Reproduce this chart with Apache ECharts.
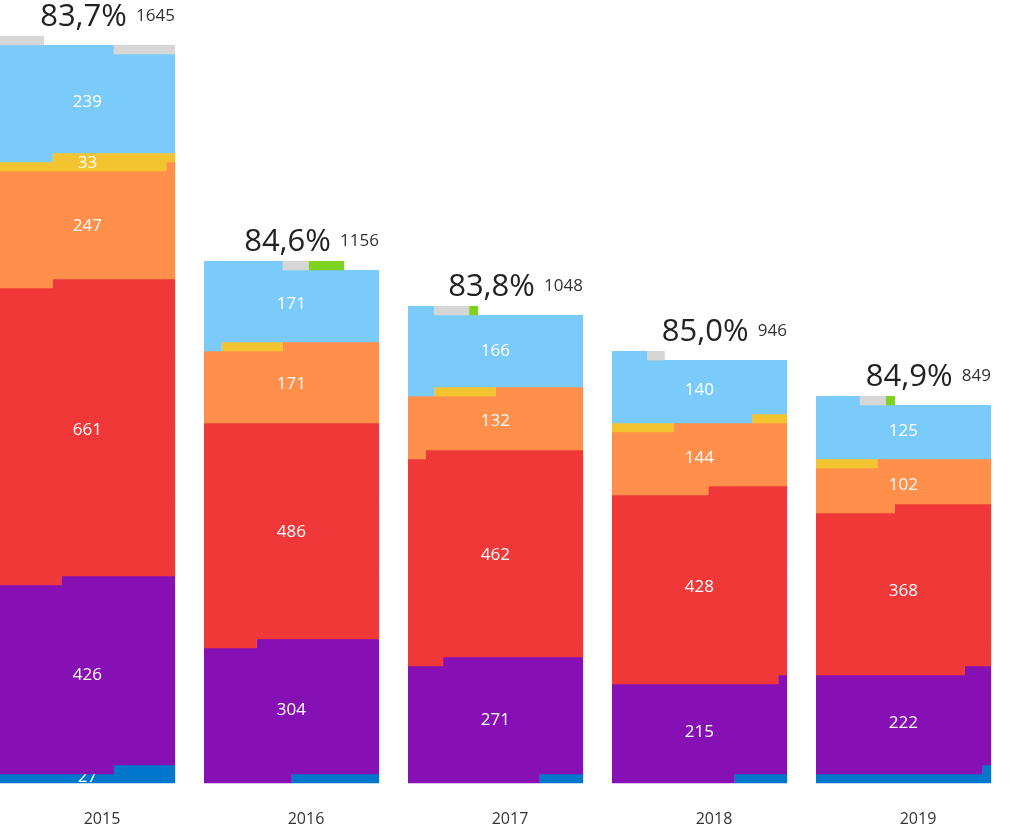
<!DOCTYPE html>
<html><head><meta charset="utf-8">
<script src="https://cdn.jsdelivr.net/npm/echarts@6/dist/echarts.min.js"></script>
<style>html,body{margin:0;padding:0;background:#fff}#c{width:1020px;height:828px}</style>
</head><body><div id="c"></div>
<script>
const years = ['2015','2016','2017','2018','2019'];
const blue      = [27, 10, 5, 6, 21];
const purple    = [426, 304, 271, 215, 222];
const red       = [661, 486, 462, 428, 368];
const orange    = [247, 171, 132, 144, 102];
const yellow    = [33, 7, 7, 11, 7];
const lightblue = [239, 171, 166, 140, 125];
const gray      = [12, 3, 4, 2, 3];
const green     = [0, 4, 1, 0, 1];
const pct       = ['83,7%', '84,6%', '83,8%', '85,0%', '84,9%'];

const groups = [
  {name:'blue', vals:blue, color:'#0077cc'},
  {name:'purple', vals:purple, color:'#8710b4'},
  {name:'red', vals:red, color:'#f03838'},
  {name:'orange', vals:orange, color:'#ff8f4a'},
  {name:'yellow', vals:yellow, color:'#f4c430'},
  {name:'lightblue', vals:lightblue, color:'#7acbfa'},
  {name:'gray', vals:gray, color:'#d6d6d6'},
  {name:'green', vals:green, color:'#7ed321'}
];
const PER_ROW = 20;
const FONT = '"Open Sans", sans-serif';

const cum = years.map(() => 0);
const topRow = years.map((y, i) => {
  let s = 0; for (let g = 0; g < 6; g++) s += groups[g].vals[i];
  return Math.floor(s / PER_ROW);
});
const totals = years.map((y, i) => groups.reduce((a, g) => a + g.vals[i], 0));

function renderSeg(params, api) {
  const idx = api.value(0), s = api.value(1), e = api.value(2), tr = api.value(3);
  if (e <= s) return null;
  const bw = api.size([1, 0])[0];
  const left = api.coord([idx, 0])[0] - bw / 2;
  const barW = bw * 180 / 210;
  const uw = barW / PER_ROW;
  const rowH = api.size([0, 1])[1];
  const children = [];
  const color = api.visual('color');
  for (let r = Math.floor(s / PER_ROW); r <= Math.floor((e - 1) / PER_ROW); r++) {
    const cs = Math.max(s, r * PER_ROW) - r * PER_ROW;
    const ce = Math.min(e, (r + 1) * PER_ROW) - r * PER_ROW;
    const x0 = r >= tr ? left + cs * uw : left + (PER_ROW - ce) * uw;
    const y = api.coord([idx, r + 1])[1];
    children.push({type: 'rect', shape: {x: x0, y: y, width: (ce - cs) * uw + 0.3, height: rowH + 0.3},
      style: {fill: color}});
  }
  if (e - s >= 25) {
    const my = api.coord([idx, (s + e) / 2 / PER_ROW])[1];
    children.push({type: 'text', style: {text: String(e - s), x: left + barW / 2, y: my,
      align: 'center', verticalAlign: 'middle', fill: '#fff', font: '17px ' + FONT}});
  }
  return {type: 'group', children};
}

const series = groups.map(g => {
  const data = years.map((y, i) => {
    const s = cum[i]; cum[i] += g.vals[i];
    return [i, s, cum[i], topRow[i]];
  });
  return {type: 'custom', name: g.name, renderItem: renderSeg, data,
    itemStyle: {color: g.color}, encode: {x: 0, y: 2}, silent: true};
});

series.push({
  type: 'custom', name: 'totals', silent: true,
  data: years.map((y, i) => [i, totals[i]]),
  encode: {x: 0, y: 1},
  renderItem: function (params, api) {
    const idx = api.value(0), t = api.value(1);
    const bw = api.size([1, 0])[0];
    const left = api.coord([idx, 0])[0] - bw / 2;
    const right = left + bw * 180 / 210;
    const top = api.coord([idx, Math.ceil(t / PER_ROW)])[1];
    return {type: 'text', style: {
      text: '{a|' + pct[idx] + '}{b|' + t + '}', x: right, y: top - 3,
      align: 'right', verticalAlign: 'bottom',
      rich: {a: {fontSize: 31, fontFamily: FONT, fill: '#222', color: '#222'},
             b: {fontSize: 17, fontFamily: FONT, fill: '#333', color: '#333', padding: [0, 0, 3, 9]}}
    }};
  }
});

const chart = echarts.init(document.getElementById('c'));
chart.setOption({
  animation: false,
  grid: {left: 0, width: 1050, top: 0, bottom: 45},
  xAxis: {type: 'category', data: years, boundaryGap: true,
    axisLine: {show: false}, axisTick: {show: false},
    axisLabel: {color: '#333', fontSize: 16, fontFamily: FONT, margin: 28, align: 'center',
      formatter: function (v) { return v; }}},
  yAxis: {type: 'value', min: 0, max: 87, show: false},
  series
});
</script></body></html>
